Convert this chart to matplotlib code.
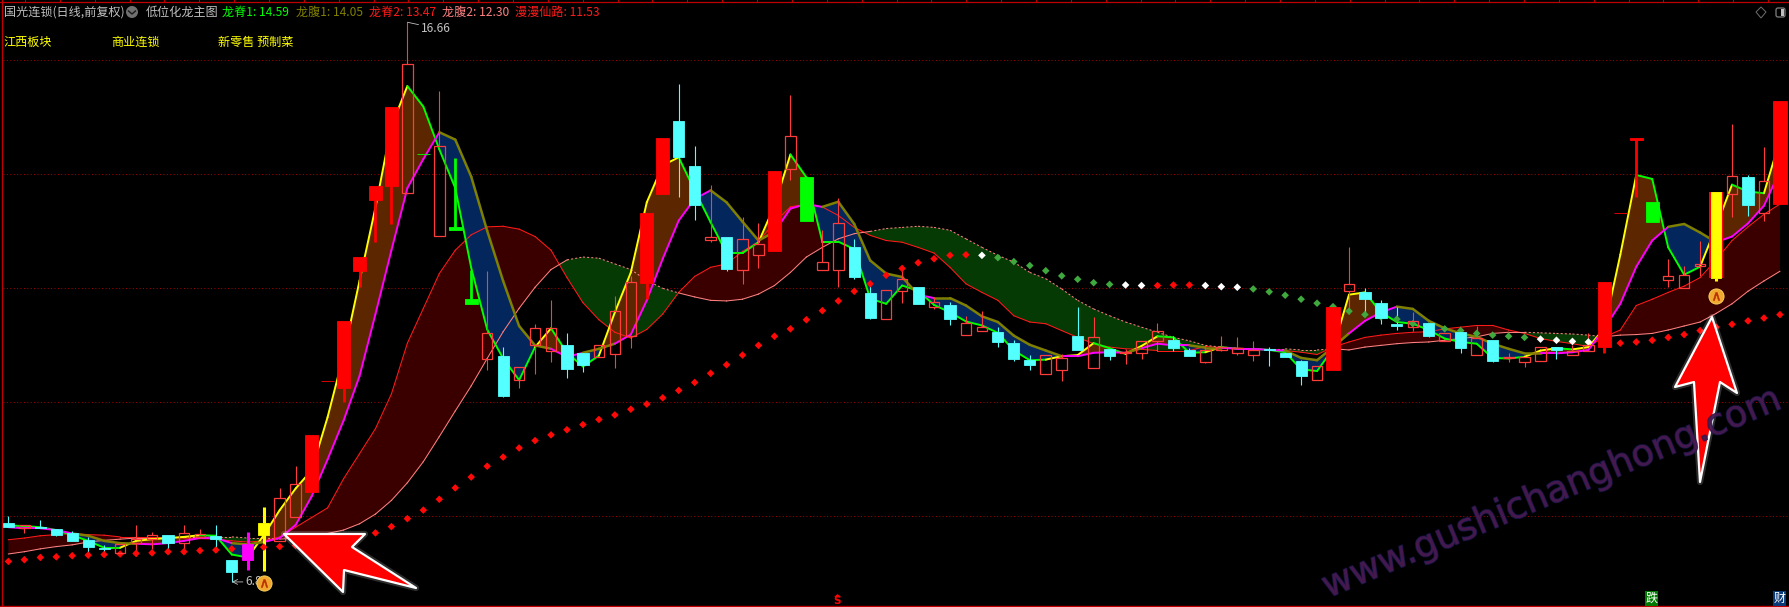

import matplotlib
matplotlib.use("Agg")
import matplotlib.pyplot as plt
import matplotlib.patheffects as pe
from matplotlib.patches import Polygon, Circle, FancyBboxPatch
from matplotlib.transforms import IdentityTransform

plt.rcParams['font.family'] = ['Noto Sans CJK SC', 'DejaVu Sans']

# ==========================================
# Data (prices per bar)
# ==========================================

# h hollow red, c cyan, r solid red, g green, m magenta, y yellow, x yellow with red sides
kinds = [
    "c", "h", "c", "c", "c", "c", "c", "h", "h", "h",
    "c", "h", "h", "c", "c", "m", "y", "h", "h", "r",
    "r", "r", "r", "r", "r", "h", "g", "h", "g", "g",
    "h", "c", "h", "h", "h", "c", "c", "h", "h", "h",
    "r", "r", "c", "c", "h", "c", "h", "h", "r", "h",
    "g", "h", "h", "c", "c", "h", "h", "c", "h", "c",
    "h", "h", "c", "c", "c", "h", "h", "c", "h", "c",
    "h", "h", "h", "c", "c", "h", "h", "h", "h", "c",
    "c", "c", "h", "r", "h", "c", "c", "c", "h", "c",
    "h", "c", "h", "c", "h", "h", "h", "c", "h", "h",
    "r", "r", "r", "g", "h", "h", "h", "x", "h", "c",
    "h", "r",
]

opens = [
    7.87, 7.79, 7.81, 7.77, 7.69, 7.57, 7.44, 7.34, 7.52, 7.59,
    7.66, 7.52, 7.63, 7.65, 7.22, 7.51, 7.66, 7.56, 7.98, 8.42,
    10.37, 10.25, 12.29, 13.54, 13.78, 13.67, 14.35, 12.91, 13.06, 11.81,
    10.76, 10.81, 10.38, 11.00, 10.89, 11.00, 10.86, 10.78, 10.84, 11.15,
    12.09, 13.64, 14.93, 14.14, 12.84, 12.89, 12.32, 12.57, 12.65, 14.08,
    13.95, 12.32, 12.32, 12.72, 11.91, 11.46, 11.94, 12.02, 11.67, 11.70,
    11.18, 11.25, 11.22, 11.03, 10.73, 10.48, 10.55, 11.16, 10.60, 10.93,
    10.85, 10.85, 11.06, 11.09, 10.91, 10.69, 10.91, 10.85, 10.82, 10.93,
    10.86, 10.72, 10.38, 10.55, 11.94, 11.93, 11.74, 11.37, 11.31, 11.39,
    11.06, 11.23, 10.83, 11.09, 10.77, 10.69, 10.71, 10.97, 10.83, 10.89,
    10.97, 13.31, 14.60, 13.50, 12.14, 12.00, 12.39, 12.17, 13.65, 13.94,
    13.32, 13.47,
]
highs = [
    8.00, 7.84, 7.92, 7.77, 7.73, 7.63, 7.48, 7.50, 7.83, 7.71,
    7.66, 7.83, 7.76, 7.83, 7.22, 7.71, 8.16, 8.48, 8.88, 9.42,
    10.37, 11.41, 12.54, 13.79, 15.18, 16.66, 14.35, 15.46, 14.27, 12.32,
    12.30, 10.96, 10.61, 11.37, 11.78, 11.20, 10.86, 11.00, 11.85, 12.20,
    13.32, 14.63, 15.58, 14.49, 13.81, 12.89, 13.24, 13.14, 14.05, 15.39,
    13.95, 13.01, 13.57, 12.85, 12.10, 11.96, 12.36, 12.02, 11.84, 11.76,
    11.51, 11.59, 11.31, 11.09, 10.82, 10.82, 10.84, 11.67, 11.49, 10.93,
    10.92, 11.06, 11.39, 11.16, 10.95, 10.99, 11.16, 11.14, 11.07, 10.96,
    10.86, 10.74, 10.62, 11.67, 12.71, 12.00, 11.79, 11.66, 11.57, 11.39,
    11.20, 11.28, 11.33, 11.09, 10.86, 10.79, 10.96, 10.97, 11.00, 11.20,
    12.10, 13.31, 14.62, 13.50, 12.50, 12.38, 12.82, 13.68, 14.88, 13.98,
    14.47, 15.28,
]
lows = [
    7.80, 7.70, 7.78, 7.65, 7.56, 7.29, 7.29, 7.30, 7.30, 7.42,
    7.39, 7.42, 7.61, 7.42, 6.84, 7.05, 7.03, 7.56, 7.98, 8.42,
    10.37, 9.99, 12.01, 12.80, 13.12, 13.67, 14.35, 12.91, 13.02, 11.71,
    10.55, 10.09, 10.24, 10.48, 10.69, 10.41, 10.53, 10.78, 10.60, 10.94,
    11.80, 13.64, 13.60, 13.19, 12.81, 12.30, 12.07, 12.35, 12.65, 13.90,
    13.18, 12.32, 12.02, 12.16, 11.46, 11.46, 11.74, 11.72, 11.62, 11.35,
    11.18, 11.25, 10.96, 10.72, 10.56, 10.48, 10.37, 10.91, 10.60, 10.74,
    10.67, 10.75, 10.90, 10.89, 10.80, 10.68, 10.90, 10.83, 10.71, 10.62,
    10.79, 10.30, 10.38, 10.55, 11.54, 11.57, 11.37, 11.26, 11.25, 11.14,
    11.06, 10.85, 10.83, 10.69, 10.69, 10.61, 10.71, 10.76, 10.82, 10.89,
    10.85, 13.31, 13.60, 13.15, 12.02, 12.00, 12.21, 12.12, 13.25, 13.26,
    13.17, 13.47,
]
closes = [
    7.80, 7.84, 7.79, 7.67, 7.56, 7.46, 7.42, 7.50, 7.60, 7.67,
    7.53, 7.69, 7.68, 7.60, 7.01, 7.22, 7.87, 8.32, 8.55, 9.42,
    10.37, 11.41, 12.54, 13.79, 15.18, 15.93, 14.35, 14.48, 13.02, 11.71,
    11.20, 10.11, 10.61, 11.29, 11.29, 10.57, 10.64, 11.00, 11.60, 12.10,
    13.32, 14.63, 14.29, 13.46, 12.89, 12.33, 12.85, 12.77, 14.05, 14.66,
    13.18, 12.45, 13.13, 12.19, 11.47, 11.96, 12.15, 11.72, 11.75, 11.46,
    11.38, 11.31, 11.05, 10.75, 10.65, 10.82, 10.77, 10.91, 11.13, 10.80,
    10.87, 11.06, 11.24, 10.95, 10.80, 10.91, 10.96, 10.95, 10.91, 10.91,
    10.79, 10.45, 10.62, 11.67, 12.07, 11.80, 11.47, 11.33, 11.42, 11.15,
    11.20, 10.94, 11.12, 10.72, 10.79, 10.79, 10.96, 10.91, 10.90, 10.99,
    12.10, 13.31, 14.62, 13.15, 12.20, 12.23, 12.42, 13.68, 13.96, 13.45,
    13.88, 15.28,
]

long_spine1 = [
    7.83, 7.82, 7.80, 7.75, 7.66, 7.56, 7.44, 7.44, 7.56, 7.59,
    7.61, 7.63, 7.66, 7.65, 7.32, 7.27, 7.66, 8.10, 8.48, 8.80,
    9.73, 10.82, 12.12, 13.41, 14.84, 15.54, 15.18, 14.43, 13.75, 12.35,
    11.27, 10.76, 10.38, 10.96, 11.29, 10.86, 10.62, 10.81, 11.57, 12.27,
    13.50, 14.15, 14.29, 13.71, 13.15, 12.61, 12.61, 12.80, 13.44, 14.34,
    13.94, 12.81, 12.81, 12.68, 11.81, 11.72, 12.04, 11.95, 11.70, 11.57,
    11.41, 11.34, 11.21, 10.90, 10.73, 10.74, 10.80, 10.82, 11.03, 10.94,
    10.84, 10.98, 11.15, 11.13, 10.86, 10.87, 10.96, 10.93, 10.93, 10.91,
    10.87, 10.57, 10.54, 10.93, 11.88, 11.92, 11.57, 11.40, 11.37, 11.26,
    11.11, 11.05, 11.02, 10.77, 10.76, 10.79, 10.90, 10.94, 10.92, 10.96,
    11.29, 12.58, 13.98, 13.91, 12.71, 12.23, 12.37, 13.07, 13.81, 13.69,
    13.66, 14.59,
]
long_belly1 = [
    7.80, 7.78, 7.78, 7.75, 7.69, 7.65, 7.56, 7.52, 7.51, 7.50,
    7.52, 7.56, 7.61, 7.61, 7.52, 7.50, 7.54, 7.61, 7.84, 8.34,
    8.99, 9.67, 10.45, 11.54, 12.66, 13.75, 14.26, 14.73, 14.60, 13.95,
    13.00, 12.12, 11.33, 10.99, 10.93, 10.79, 10.86, 10.93, 11.02, 11.18,
    11.78, 12.51, 13.18, 13.56, 13.71, 13.50, 13.16, 12.83, 12.98, 13.39,
    13.47, 13.42, 13.51, 13.12, 12.48, 12.25, 12.19, 11.88, 11.82, 11.82,
    11.69, 11.50, 11.40, 11.16, 11.00, 10.90, 10.80, 10.80, 10.86, 10.87,
    10.86, 10.94, 11.02, 10.99, 10.99, 10.95, 10.95, 10.93, 10.93, 10.91,
    10.90, 10.77, 10.73, 10.96, 11.20, 11.42, 11.57, 11.67, 11.63, 11.42,
    11.29, 11.20, 11.14, 11.02, 10.93, 10.85, 10.85, 10.85, 10.87, 10.91,
    11.29, 11.72, 12.37, 12.83, 13.07, 13.12, 12.97, 12.80, 12.90, 13.13,
    13.44, 14.05,
]
long_spine2 = [
    7.58, 7.61, 7.65, 7.67, 7.69, 7.67, 7.66, 7.63, 7.63, 7.63,
    7.63, 7.61, 7.60, 7.59, 7.56, 7.54, 7.56, 7.63, 7.80, 7.97,
    8.14, 8.65, 9.09, 9.53, 10.14, 11.03, 11.64, 12.25, 12.66, 12.93,
    13.07, 13.08, 13.03, 12.90, 12.66, 12.18, 11.74, 11.44, 11.22, 11.12,
    11.27, 11.54, 11.92, 12.20, 12.36, 12.42, 12.64, 12.81, 13.15, 13.42,
    13.47, 13.42, 13.27, 13.06, 12.92, 12.83, 12.80, 12.71, 12.61, 12.36,
    12.07, 11.92, 11.78, 11.51, 11.40, 11.37, 11.25, 11.13, 11.02, 10.96,
    10.93, 10.92, 10.90, 10.90, 10.90, 10.97, 10.95, 10.94, 10.93, 10.91,
    10.90, 10.87, 10.83, 10.96, 11.05, 11.13, 11.17, 11.20, 11.22, 11.23,
    11.28, 11.31, 11.34, 11.34, 11.26, 11.20, 11.11, 11.06, 11.02, 10.97,
    11.14, 11.26, 11.69, 11.80, 11.92, 12.03, 12.18, 12.49, 12.83, 13.07,
    13.29, 13.47,
]
long_belly2 = [
    7.33, 7.37, 7.42, 7.46, 7.49, 7.54, 7.57, 7.59, 7.61, 7.61,
    7.61, 7.62, 7.62, 7.63, 7.63, 7.61, 7.61, 7.59, 7.61, 7.65,
    7.69, 7.75, 7.86, 8.03, 8.27, 8.58, 8.95, 9.39, 9.84, 10.28,
    10.76, 11.23, 11.64, 12.01, 12.32, 12.49, 12.54, 12.52, 12.42, 12.32,
    12.13, 11.99, 11.91, 11.84, 11.78, 11.77, 11.80, 11.89, 12.04, 12.27,
    12.54, 12.71, 12.86, 12.95, 12.99, 13.04, 13.06, 13.08, 13.06, 13.01,
    12.86, 12.71, 12.57, 12.45, 12.27, 12.16, 11.98, 11.78, 11.63, 11.51,
    11.40, 11.31, 11.22, 11.13, 11.07, 10.99, 10.96, 10.94, 10.93, 10.93,
    10.93, 10.91, 10.91, 10.93, 10.91, 10.96, 10.99, 11.02, 11.04, 11.05,
    11.08, 11.11, 11.14, 11.20, 11.22, 11.22, 11.21, 11.20, 11.19, 11.17,
    11.14, 11.17, 11.18, 11.20, 11.26, 11.33, 11.40, 11.55, 11.72, 11.94,
    12.12, 12.29,
]
immortal_road = [
    7.20, 7.23, 7.27, 7.28, 7.30, 7.31, 7.32, 7.33, 7.34, 7.35,
    7.37, 7.37, 7.39, 7.40, 7.42, 7.44, 7.45, 7.46, 7.48, 7.51,
    7.54, 7.58, 7.63, 7.70, 7.81, 7.95, 8.10, 8.29, 8.49, 8.68,
    8.87, 9.03, 9.19, 9.32, 9.42, 9.51, 9.60, 9.69, 9.77, 9.87,
    9.96, 10.07, 10.20, 10.34, 10.50, 10.65, 10.82, 10.99, 11.15, 11.28,
    11.44, 11.60, 11.77, 11.94, 12.07, 12.22, 12.34, 12.44, 12.51, 12.57,
    12.58, 12.57, 12.53, 12.46, 12.39, 12.30, 12.21, 12.15, 12.09, 12.06,
    12.05, 12.04, 12.04, 12.05, 12.05, 12.04, 12.02, 12.01, 11.98, 11.93,
    11.87, 11.80, 11.73, 11.67, 11.59, 11.53, 11.49, 11.45, 11.37, 11.33,
    11.28, 11.25, 11.20, 11.17, 11.15, 11.13, 11.10, 11.08, 11.06, 11.05,
    11.04, 11.03, 11.05, 11.08, 11.13, 11.18, 11.25, 11.31, 11.36, 11.42,
    11.47, 11.53,
]
# one letter per dot: r red, w white, g green
road_colors = list(
    "rrrrrrrrrrrrrrrrrrrrrrrrrrrrrrrrrrrrrrrrrrrrrrrrrrrrrrrrrrrrr"  # 0-60
    "wggggggggwwrrrwww"                                               # 61-77
    "ggggggggggggggggggwwwww"                                         # 78-100
    "rrrrrrrrrrr"                                                     # 101-111
)

grid_prices = [16, 14, 12, 10, 8]
signal_bars = [16, 107]
signal_prices = [6.82, 11.86]
sector_names = ["江西板块", "商业连锁", "新零售 预制菜"]
sector_pixels = [3, 111, 218]
legend_names = ["龙脊1: 14.59", "龙腹1: 14.05", "龙脊2: 13.47", "龙腹2: 12.30", "漫漫仙路: 11.53"]
legend_colors = ["#00ff00", "#808000", "#ff1a1a", "#ff8080", "#ff1a1a"]
legend_pixels = [222, 296, 369, 442, 515]

W, H = 1789, 607
bars = list(range(len(closes)))

# ==========================================
# Figure
# ==========================================

fig = plt.figure(figsize=(W / 100, H / 100), dpi=100, facecolor="black")
ax = fig.add_axes([0, 0, 1, 1], facecolor="black")
ax.set_xlim(-0.526, 111.57)
ax.set_ylim(6.40, 17.05)
ax.axis("off")


def px(x, y):
    # picture pixels (origin top left) to display coordinates
    return (x, H - y)


# Grid
ax.hlines(grid_prices, -0.33, 111.57, colors="#b00000", linewidth=0.7, linestyles=(0, (1, 2.5)), zorder=1)

# Slow band
ax.fill_between(bars, long_spine2, long_belly2, where=[a >= b for a, b in zip(long_spine2, long_belly2)],
                interpolate=True, color="#3a0000", linewidth=0, zorder=1.2)
ax.fill_between(bars, long_spine2, long_belly2, where=[a < b for a, b in zip(long_spine2, long_belly2)],
                interpolate=True, color="#053a05", linewidth=0, zorder=1.2)

# Fast band
ax.fill_between(bars, long_spine1, long_belly1, where=[a >= b for a, b in zip(long_spine1, long_belly1)],
                interpolate=True, color="#5c2700", linewidth=0, zorder=1.4)
ax.fill_between(bars, long_spine1, long_belly1, where=[a < b for a, b in zip(long_spine1, long_belly1)],
                interpolate=True, color="#03265c", linewidth=0, zorder=1.4)

# Band lines, coloured piece by piece
for i in bars[:-1]:
    seg = [i, i + 1]
    ax.plot(seg, long_spine2[i:i + 2], color="#ff1a1a", linewidth=0.75, zorder=2)
    above = long_belly2[i] > long_spine2[i]
    ax.plot(seg, long_belly2[i:i + 2], color="#ff8080", linewidth=0.75,
            linestyle=(0, (2, 2)) if above else "-", zorder=2)

    rising = long_spine1[i + 1] > long_spine1[i] and long_spine1[i + 1] >= long_belly1[i + 1]
    ax.plot(seg, long_spine1[i:i + 2], color="#ffff00" if rising else "#00ff00", linewidth=1.4,
            solid_capstyle="round", zorder=3)
    if long_spine1[i] >= long_belly1[i]:
        ax.plot(seg, long_belly1[i:i + 2], color="#ff00ff", linewidth=1.4, solid_capstyle="round", zorder=3)
    else:
        ax.plot(seg, long_belly1[i:i + 2], color="#808000", linewidth=1.8, solid_capstyle="round", zorder=3)

# Candles
body_color = {"h": "none", "c": "#54ffff", "r": "#ff0000", "g": "#00ff00",
              "m": "#ff00ff", "y": "#ffff00", "x": "#ffff00"}
wick_color = {"h": "#ff3c3c", "c": "#54ffff", "r": "#ff0000", "g": "#00ff00",
              "m": "#ff00ff", "y": "#ffff00", "x": "#ffff00"}
body_width = {"h": 0.66, "c": 0.70, "r": 0.84, "g": 0.84, "m": 0.70, "y": 0.66, "x": 0.62}
wick_width = {"h": 0.8, "c": 0.8, "r": 2.0, "g": 2.0, "m": 2.2, "y": 2.2, "x": 2.2}

for i in bars:
    k = kinds[i]
    top = max(opens[i], closes[i])
    bottom = min(opens[i], closes[i])
    if highs[i] > top:
        ax.vlines(i, top, highs[i], colors=wick_color[k], linewidth=wick_width[k], zorder=3.5)
    if lows[i] < bottom:
        ax.vlines(i, lows[i], bottom, colors=wick_color[k], linewidth=wick_width[k], zorder=3.5)
    if k == "x":
        ax.bar(i, top - bottom, 0.84, bottom, color="#ff0000", zorder=4)
    if k == "h":
        ax.bar(i, top - bottom, body_width[k], bottom, facecolor="none", edgecolor="#ff3c3c",
               linewidth=0.9, zorder=4)
    else:
        ax.bar(i, top - bottom, body_width[k], bottom, facecolor=body_color[k],
               edgecolor=body_color[k], linewidth=0.6, zorder=4.2)

# Road dots
dot_map = {"r": "#ff0808", "w": "#ffffff", "g": "#3fa83f"}
ax.scatter(bars, immortal_road, s=15, marker="D", c=[dot_map[c] for c in road_colors],
           linewidths=0, zorder=3.8)

# Signal icons
ax.scatter(signal_bars, signal_prices, s=120, c="#f0a830", edgecolors="#ffd860", linewidths=0.6, zorder=6)
ax.scatter(signal_bars, signal_prices, s=32, marker="$\\wedge$", c="#b83000", linewidths=0.4, zorder=6.1)

# High and low labels
ax.annotate("16.66", xy=(25, highs[25]), xytext=(10, -4.5), textcoords="offset points",
            color="#c0c0c0", fontsize=8.7, va="center",
            arrowprops=dict(arrowstyle="-", color="#c0c0c0", lw=0.6, shrinkA=0, shrinkB=0), zorder=5)
ax.annotate("6.8", xy=(14, lows[14]), xytext=(10, 0), textcoords="offset points",
            color="#c0c0c0", fontsize=8.7, va="center",
            arrowprops=dict(arrowstyle="->", color="#c0c0c0", lw=0.6, shrinkA=0, shrinkB=0), zorder=5)

# ==========================================
# Big arrows
# ==========================================

arrow_left = [(284, 534), (365, 534), (352, 547), (416, 588), (344, 570), (343, 592)]
arrow_up = [(1712, 317), (1737, 393), (1720, 382), (1700, 482), (1694, 382), (1675, 387)]
for shape in [arrow_left, arrow_up]:
    pts = [px(x, y) for x, y in shape]
    ax.add_patch(Polygon(pts, closed=True, facecolor="none", edgecolor="white", linewidth=4.5, alpha=0.18,
                         joinstyle="round", transform=IdentityTransform(), zorder=7))
    ax.add_patch(Polygon(pts, closed=True, facecolor="#ff0000", edgecolor="white", linewidth=1.6,
                         joinstyle="round", transform=IdentityTransform(), zorder=7.1))

# Watermark
wx, wy = px(1328, 598)
wm = ax.text(wx, wy, "www.gushichanghong.com", transform=IdentityTransform(), rotation=22.7,
             rotation_mode="anchor", ha="left", va="baseline", fontsize=26.5, color="#4a1a50", alpha=0.8,
             family="DejaVu Sans", zorder=8)
wm.set_path_effects([pe.withStroke(linewidth=1.2, foreground="#181850", alpha=0.8)])

# ==========================================
# Frame and header
# ==========================================

ax.add_line(plt.Line2D([0, W], [H - 2, H - 2], color="#c00000", linewidth=0.9, transform=IdentityTransform(), zorder=9))
ax.add_line(plt.Line2D([0, W], [H - 606, H - 606], color="#c00000", linewidth=1.0, transform=IdentityTransform(), zorder=9))
ax.add_line(plt.Line2D([1.5, 1.5], [H, 0], color="#c00000", linewidth=0.9, transform=IdentityTransform(), zorder=9))
for k in range(51):
    tx = 25 + 34.86 * k
    ax.add_line(plt.Line2D([tx, tx], [H - 2, H], color="#c00000", linewidth=0.7, transform=IdentityTransform(), zorder=9))


def label(x, y, text, color, **kw):
    fig.text(x / W, 1 - y / H, text, color=color, fontsize=8.7, va="center", **kw)


label(4, 12, "国光连锁(日线,前复权)", "#c0c0c0")
ax.add_patch(Circle(px(132, 12), 6, facecolor="#707070", edgecolor="none", transform=IdentityTransform(), zorder=9))
ax.add_line(plt.Line2D([128.5, 132, 135.5], [H - 11, H - 14, H - 11], color="#1a1a1a", linewidth=1.0,
                       transform=IdentityTransform(), zorder=9.1))
label(146, 12, "低位化龙主图", "#c0c0c0")
for name, col, xp in zip(legend_names, legend_colors, legend_pixels):
    label(xp, 12, name, col)
for name, xp in zip(sector_names, sector_pixels):
    label(xp, 42, name, "#ffff00")

# top right buttons
ax.add_patch(Polygon([px(1761, 7), px(1766, 12), px(1761, 18), px(1756, 12)], closed=True, facecolor="none",
                     edgecolor="#707070", linewidth=0.7, transform=IdentityTransform(), zorder=9))
ax.add_patch(FancyBboxPatch((1776, H - 17), 9, 9, boxstyle="round,pad=0,rounding_size=2", facecolor="black",
                            edgecolor="#808080", linewidth=0.9, transform=IdentityTransform(), zorder=9))
ax.add_patch(Polygon([px(1781, 9), px(1784, 9), px(1784, 16), px(1781, 16)], closed=True, facecolor="#c0c0c0",
                     edgecolor="none", transform=IdentityTransform(), zorder=9.1))

# bottom markers
fig.text(837.5 / W, 1 - 601 / H, "S", color="#ff0000", fontsize=7.5, fontweight="bold", ha="center", va="center",
         family="DejaVu Sans")
ax.add_patch(Polygon([px(837.5, 594), px(841, 597), px(834, 597)], closed=True, facecolor="#ff0000",
                     edgecolor="none", transform=IdentityTransform(), zorder=9))
fig.text(1651.5 / W, 1 - 598.5 / H, "跌", color="white", fontsize=8.7, ha="center", va="center",
         bbox=dict(facecolor="#007a00", edgecolor="none", pad=0.6))
fig.text(1779.5 / W, 1 - 598.5 / H, "财", color="white", fontsize=8.7, ha="center", va="center",
         bbox=dict(facecolor="#0a3a78", edgecolor="none", pad=0.6))

fig.savefig("out.png", dpi=100, facecolor="black")
